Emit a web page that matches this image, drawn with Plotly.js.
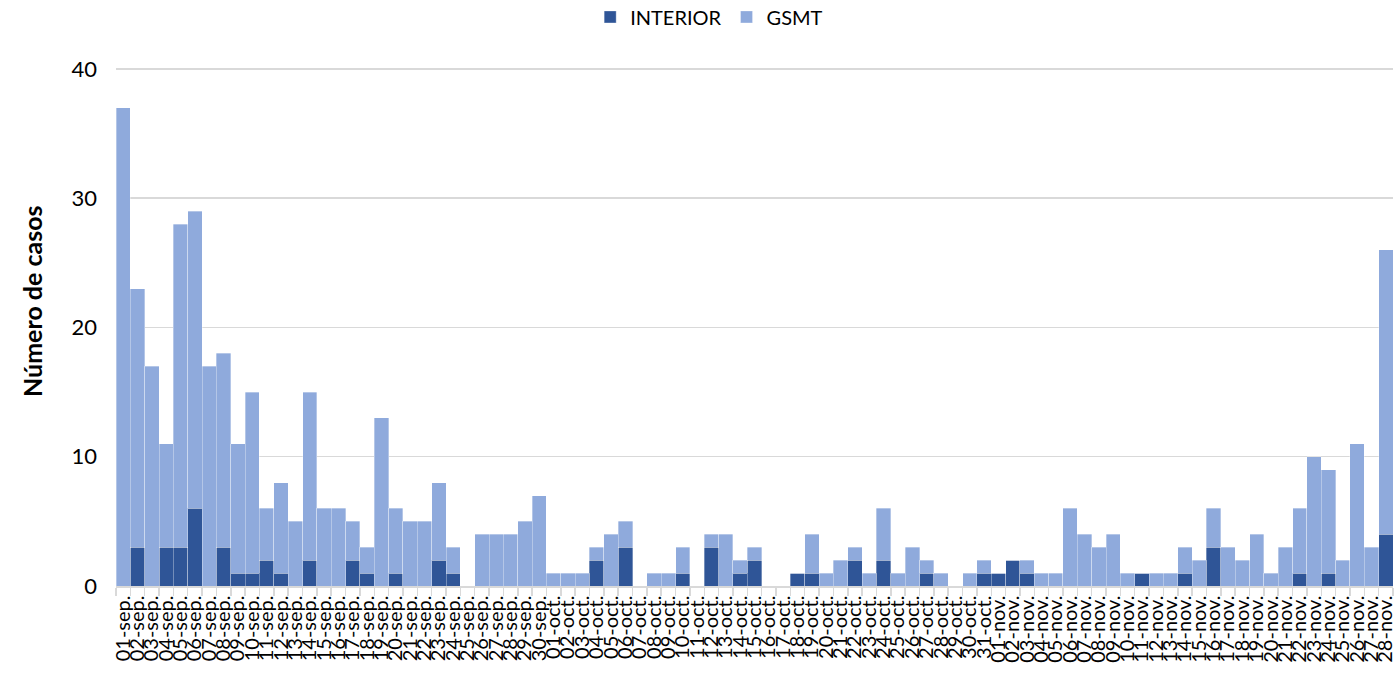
<!DOCTYPE html>
<html>
<head>
<meta charset="utf-8">
<script src="https://cdn.plot.ly/plotly-3.0.1.min.js"></script>
<style>
html,body{margin:0;padding:0;background:#fff;}
#chart{width:1396px;height:677px;}
</style>
</head>
<body>
<div id="chart"></div>
<script>
var categories = [
"01-sep.","02-sep.","03-sep.","04-sep.","05-sep.","06-sep.","07-sep.","08-sep.","09-sep.","10-sep.",
"11-sep.","12-sep.","13-sep.","14-sep.","15-sep.","16-sep.","17-sep.","18-sep.","19-sep.","20-sep.",
"21-sep.","22-sep.","23-sep.","24-sep.","25-sep.","26-sep.","27-sep.","28-sep.","29-sep.","30-sep.",
"01-oct.","02-oct.","03-oct.","04-oct.","05-oct.","06-oct.","07-oct.","08-oct.","09-oct.","10-oct.",
"11-oct.","12-oct.","13-oct.","14-oct.","15-oct.","16-oct.","17-oct.","18-oct.","19-oct.","20-oct.",
"21-oct.","22-oct.","23-oct.","24-oct.","25-oct.","26-oct.","27-oct.","28-oct.","29-oct.","30-oct.","31-oct.",
"01-nov.","02-nov.","03-nov.","04-nov.","05-nov.","06-nov.","07-nov.","08-nov.","09-nov.","10-nov.",
"11-nov.","12-nov.","13-nov.","14-nov.","15-nov.","16-nov.","17-nov.","18-nov.","19-nov.","20-nov.",
"21-nov.","22-nov.","23-nov.","24-nov.","25-nov.","26-nov.","27-nov.","28-nov."
];

var interior = [
0,3,0,3,3,6,0,3,1,1, 2,1,0,2,0,0,2,1,0,1, 0,0,2,1,0,0,0,0,0,0,
0,0,0,2,0,3,0,0,0,1, 0,3,0,1,2,0,0,1,1,0, 0,2,0,2,0,0,1,0,0,0,1,
1,2,1,0,0,0,0,0,0,0, 1,0,0,1,0,3,0,0,0,0, 0,1,0,1,0,0,0,4
];

var gsmt = [
37,20,17,8,25,23,17,15,10,14, 4,7,5,13,6,6,3,2,13,5, 5,5,6,2,0,4,4,4,5,7,
1,1,1,1,4,2,0,1,1,2, 0,1,4,1,1,0,0,0,3,1, 2,1,1,4,1,3,1,1,0,1,1,
0,0,1,1,1,6,4,3,4,1, 0,1,1,2,2,3,3,2,4,1, 3,5,10,8,2,11,3,22
];

var yTicks = [0,10,20,30,40];
var yTitle = "Número de casos";

var FONT = "Lato, 'Liberation Sans', sans-serif";

var traces = [
  {
    type: "bar", name: "INTERIOR", x: categories, y: interior,
    marker: {color: "#2F5597", line: {color: "rgba(255,255,255,0.55)", width: 0.6}}
  },
  {
    type: "bar", name: "GSMT", x: categories, y: gsmt,
    marker: {color: "#8FAADC", line: {color: "rgba(255,255,255,0.55)", width: 0.6}}
  }
];

var layout = {
  width: 1396, height: 677,
  margin: {l: 116, r: 3, t: 65, b: 91},
  paper_bgcolor: "#ffffff", plot_bgcolor: "#ffffff",
  barmode: "stack", bargap: 0,
  font: {family: FONT, size: 21, color: "#000000"},
  showlegend: true,
  legend: {
    orientation: "h", xref: "container", x: 0.508, xanchor: "center",
    yref: "container", y: 0.975, yanchor: "middle",
    traceorder: "normal", font: {family: FONT, size: 20, color: "#000"},
    itemwidth: 30
  },
  xaxis: {
    type: "category", tickmode: "array", tickvals: categories, ticktext: categories,
    tickangle: -90, tickfont: {family: FONT, size: 20, color: "#000"},
    tickson: "boundaries", ticks: "outside", ticklen: 8, tickcolor: "#d9d9d9", tickwidth: 1.5,
    showline: true, linecolor: "#d9d9d9", linewidth: 1.5,
    showgrid: false, automargin: false, fixedrange: true
  },
  yaxis: {
    range: [0, 40.3], tickmode: "array", tickvals: yTicks,
    tickfont: {family: FONT, size: 22, color: "#000"},
    ticklabelstandoff: 18,
    showgrid: true, gridcolor: "#d9d9d9", gridwidth: 1.5,
    zeroline: false, showline: false, automargin: false, fixedrange: true
  },
  annotations: [{
    text: yTitle, textangle: -90, showarrow: false,
    xref: "paper", x: -84/1277, xanchor: "center",
    yref: "paper", y: (586-301)/521, yanchor: "middle",
    font: {family: FONT, size: 25, color: "#000", weight: "bold"}
  }]
};

Plotly.newPlot("chart", traces, layout, {displayModeBar: false, staticPlot: true});
</script>
</body>
</html>
